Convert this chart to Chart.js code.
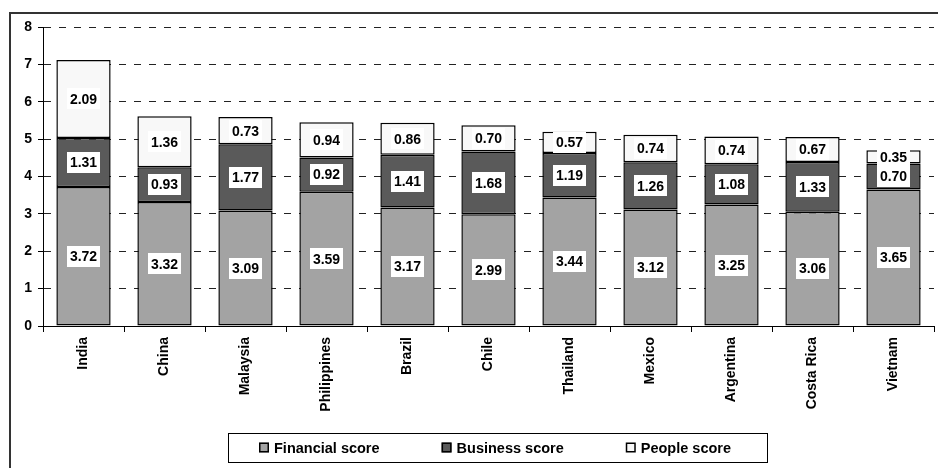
<!DOCTYPE html>
<html>
<head>
<meta charset="utf-8">
<script src="https://cdn.jsdelivr.net/npm/chart.js@4.4.1/dist/chart.umd.min.js"></script>
<style>
  html, body { margin: 0; padding: 0; background: #fff; }
  #scoreChart { display: block; }
</style>
</head>
<body>
<canvas id="scoreChart" width="938" height="468"></canvas>
<script>
// Страны и оценки по трём составляющим
const countries = ['India', 'China', 'Malaysia', 'Philippines', 'Brazil', 'Chile', 'Thailand', 'Mexico', 'Argentina', 'Costa Rica', 'Vietnam'];
const financialScore = [3.72, 3.32, 3.09, 3.59, 3.17, 2.99, 3.44, 3.12, 3.25, 3.06, 3.65];
const businessScore = [1.31, 0.93, 1.77, 0.92, 1.41, 1.68, 1.19, 1.26, 1.08, 1.33, 0.70];
const peopleScore = [2.09, 1.36, 0.73, 0.94, 0.86, 0.70, 0.57, 0.74, 0.74, 0.67, 0.35];
const seriesNames = ['Financial score', 'Business score', 'People score'];
const yTicks = [0, 1, 2, 3, 4, 5, 6, 7, 8];

const FONT = "'Liberation Sans', Arial, sans-serif";

// Рамка вокруг всей диаграммы (видны только верх и левый край)
const framePlugin = {
  id: 'frame',
  beforeDraw(chart) {
    const ctx = chart.ctx;
    ctx.save();
    ctx.strokeStyle = '#333';
    ctx.lineWidth = 2;
    ctx.beginPath();
    ctx.moveTo(10, chart.height);
    ctx.lineTo(10, 13);
    ctx.lineTo(chart.width, 13);
    ctx.stroke();
    ctx.restore();
  }
};

// Подписи значений в белых прямоугольниках по центру сегментов
const valueLabelsPlugin = {
  id: 'valueLabels',
  afterDatasetsDraw(chart) {
    const ctx = chart.ctx;
    ctx.save();
    ctx.font = 'bold 14px ' + FONT;
    ctx.textAlign = 'center';
    ctx.textBaseline = 'middle';
    chart.data.datasets.forEach((ds, i) => {
      const meta = chart.getDatasetMeta(i);
      meta.data.forEach((bar, j) => {
        const text = ds.data[j].toFixed(2);
        const cy = (bar.y + bar.base) / 2;
        const w = ctx.measureText(text).width + 6;
        const h = 21;
        ctx.fillStyle = '#fff';
        ctx.fillRect(Math.round(bar.x - w / 2), Math.round(cy - h / 2), Math.round(w), h);
        ctx.fillStyle = '#000';
        ctx.fillText(text, bar.x, cy + 1);
      });
    });
    ctx.restore();
  }
};

// Легенда внизу в рамке
const boxLegendPlugin = {
  id: 'boxLegend',
  afterDraw(chart) {
    const ctx = chart.ctx;
    const top = 433, height = 29;
    const left = 228, right = 767;
    const startX = 259, gap = 62, box = 10;
    ctx.save();
    ctx.strokeStyle = '#000';
    ctx.lineWidth = 1;
    ctx.strokeRect(left + 0.5, top + 0.5, right - left, height);
    ctx.font = 'bold 14.5px ' + FONT;
    ctx.textBaseline = 'middle';
    ctx.textAlign = 'left';
    const cy = top + height / 2;
    let x = startX;
    chart.data.datasets.forEach(ds => {
      ctx.fillStyle = ds.backgroundColor;
      ctx.fillRect(x, cy - box / 2, box, box);
      ctx.lineWidth = 1.5;
      ctx.strokeRect(x + 0.75, cy - box / 2 + 0.75, box - 1.5, box - 1.5);
      ctx.fillStyle = '#000';
      ctx.fillText(ds.label, x + box + 5, cy + 1);
      x += box + 5 + ctx.measureText(ds.label).width + gap;
    });
    ctx.restore();
  }
};

function makeDataset(label, data, color) {
  return {
    label: label,
    data: data,
    backgroundColor: color,
    borderColor: '#000',
    borderWidth: 1.5,
    borderSkipped: false,
    categoryPercentage: 1,
    barPercentage: 0.67
  };
}

new Chart(document.getElementById('scoreChart'), {
  type: 'bar',
  data: {
    labels: countries,
    datasets: [
      makeDataset(seriesNames[0], financialScore, '#a3a3a3'),
      makeDataset(seriesNames[1], businessScore, '#5a5a5a'),
      makeDataset(seriesNames[2], peopleScore, '#f8f8f8')
    ]
  },
  options: {
    responsive: false,
    animation: false,
    layout: { padding: { left: 0, right: 4, top: 27, bottom: 0 } },
    plugins: {
      legend: { display: false },
      tooltip: { enabled: false }
    },
    scales: {
      x: {
        stacked: true,
        afterFit: scale => { scale.height = 142; },
        grid: {
          display: true,
          drawOnChartArea: false,
          offset: true,
          tickLength: 6,
          color: '#000'
        },
        border: { color: '#000', width: 1 },
        ticks: {
          color: '#000',
          font: { family: FONT, size: 14, weight: 'bold' },
          minRotation: 90,
          maxRotation: 90,
          padding: 5,
          autoSkip: false
        }
      },
      y: {
        stacked: true,
        min: yTicks[0],
        max: yTicks[yTicks.length - 1],
        afterFit: scale => { scale.width = 43; },
        afterBuildTicks: scale => { scale.ticks = yTicks.map(v => ({ value: v })); },
        grid: {
          color: '#222',
          lineWidth: 1,
          tickLength: 5,
          tickColor: '#000'
        },
        border: { color: '#000', width: 1, dash: [7, 8] },
        ticks: {
          color: '#000',
          font: { family: FONT, size: 14, weight: 'bold' },
          padding: 6
        }
      }
    }
  },
  plugins: [framePlugin, valueLabelsPlugin, boxLegendPlugin]
});
</script>
</body>
</html>
